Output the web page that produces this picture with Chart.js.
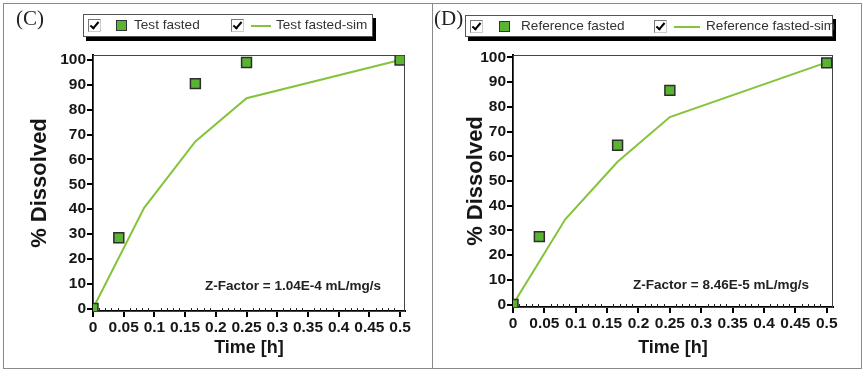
<!DOCTYPE html>
<html>
<head>
<meta charset="utf-8">
<script src="https://cdn.jsdelivr.net/npm/chart.js@4"></script>
<style>
  body { margin: 0; background: #fff; }
  #wrap { position: relative; width: 865px; height: 370px; overflow: hidden; font-family: "Liberation Sans", Arial, sans-serif; }
  .cv { position: absolute; top: 0; }
  .rule { position: absolute; background: #8a8a8a; }
  .tag { position: absolute; top: 6px; font-family: "Liberation Serif", serif; font-size: 21px; color: #222; }
  .legend { position: absolute; border: 1px solid #555; background: #fff; box-shadow: 3px 4px 0 #000; font-size: 13.6px; color: #333; }
  .chk { position: absolute; top: 4px; width: 11px; height: 11px; border: 1px solid; border-color: #777 #ccc #ccc #777; }
  .chk::after { content: ''; position: absolute; left: 3px; top: 0; width: 3px; height: 7px; border: solid #000; border-width: 0 2px 2px 0; transform: rotate(40deg); }
  .sq { position: absolute; top: 5px; width: 9px; height: 9px; background: #5ab432; border: 1px solid #333; }
  .ln { position: absolute; top: 10px; height: 2px; background: #84c33a; }
  .lt { position: absolute; top: 2px; white-space: nowrap; }
  .zf { position: absolute; font-weight: bold; font-size: 13.5px; color: #222; white-space: nowrap; }
</style>
</head>
<body>
<div id="wrap">
  <div class="rule" style="left:3px;top:3px;width:859px;height:1px"></div>
  <div class="rule" style="left:3px;top:3px;width:1px;height:366px"></div>
  <div class="rule" style="left:432px;top:3px;width:1px;height:366px"></div>
  <div class="rule" style="left:861px;top:3px;width:1px;height:366px"></div>
  <div class="rule" style="left:3px;top:368px;width:859px;height:1px"></div>

  <canvas id="chartC" class="cv" style="left:0"></canvas>
  <canvas id="chartD" class="cv" style="left:432px"></canvas>

  <div class="tag" style="left:16px">(C)</div>
  <div class="tag" style="left:434px">(D)</div>

  <div class="legend" style="left:83px;top:14px;width:288px;height:21px">
    <div class="chk" style="left:4px"></div>
    <div class="sq" style="left:32px"></div>
    <div class="lt" style="left:50px">Test fasted</div>
    <div class="chk" style="left:147px"></div>
    <div class="ln" style="left:167px;width:20px"></div>
    <div class="lt" style="left:192px">Test fasted-sim</div>
  </div>
  <div class="legend" style="left:465px;top:15px;width:366px;height:20px">
    <div class="chk" style="left:4px"></div>
    <div class="sq" style="left:33px"></div>
    <div class="lt" style="left:55px">Reference fasted</div>
    <div class="chk" style="left:188px"></div>
    <div class="ln" style="left:208px;width:26px"></div>
    <div class="lt" style="left:240px">Reference fasted-sim</div>
  </div>

  <div class="zf" style="left:205px;top:278px">Z-Factor = 1.04E-4 mL/mg/s</div>
  <div class="zf" style="left:633px;top:277px">Z-Factor = 8.46E-5 mL/mg/s</div>
</div>

<script>
// observed: sampling times [h] and % dissolved
const obsTime = [0, 0.042, 0.1667, 0.25, 0.5];
const testFasted = [0, 28.5, 90.5, 99, 100];
const refFasted = [0, 27.5, 64.5, 86.7, 97.8];

// simulated: time [h] and % dissolved
const simTime = [0, 0.0833, 0.1667, 0.25, 0.5];
const testFastedSim = [0, 40.5, 67.2, 84.6, 100];
const refFastedSim = [0, 34.5, 57.8, 75.9, 98];

const xTicks = [0, 0.05, 0.1, 0.15, 0.2, 0.25, 0.3, 0.35, 0.4, 0.45, 0.5];
const yTicks = [0, 10, 20, 30, 40, 50, 60, 70, 80, 90, 100];

const GREEN = "#5ab432";
const SIM_GREEN = "#84c33a";
const INK = "#161616";

function pts(xs, ys) {
  return xs.map((x, i) => ({ x: x, y: ys[i] }));
}

// thin box around the plot + small minor ticks on the time axis
const frame = {
  id: "frame",
  beforeDatasetsDraw(chart) {
    const a = chart.chartArea;
    const ctx = chart.ctx;
    ctx.save();
    ctx.strokeStyle = "#444";
    ctx.lineWidth = 1;
    ctx.strokeRect(a.left + 0.5, a.top + 0.5, a.right - a.left - 1, a.bottom - a.top);
    const xs = chart.scales.x;
    ctx.strokeStyle = "#222";
    for (let v = 0.01; v < 0.5; v += 0.01) {
      if (Math.abs(v / 0.05 - Math.round(v / 0.05)) < 1e-6) continue;
      const px = Math.round(xs.getPixelForValue(v)) + 0.5;
      ctx.beginPath();
      ctx.moveTo(px, a.bottom);
      ctx.lineTo(px, a.bottom - 3);
      ctx.stroke();
    }
    ctx.restore();
  },
};

function makeConfig(p) {
  return {
    type: "scatter",
    data: {
      datasets: [
        {
          label: p.simLabel,
          type: "line",
          data: pts(simTime, p.sim),
          borderColor: SIM_GREEN,
          borderWidth: 2,
          pointRadius: 0,
          tension: 0,
          order: 2,
        },
        {
          label: p.obsLabel,
          data: pts(obsTime, p.obs),
          backgroundColor: GREEN,
          borderColor: "#2e2e2e",
          borderWidth: 1.5,
          pointStyle: "rect",
          pointRadius: 7,
          order: 1,
        },
      ],
    },
    options: {
      responsive: false,
      animation: false,
      events: [],
      layout: { padding: { left: p.padLeft, top: 55, right: p.padRight, bottom: 9 } },
      plugins: { legend: { display: false }, tooltip: { enabled: false } },
      scales: {
        x: {
          type: "linear",
          min: 0,
          max: p.xMax,
          afterBuildTicks: (s) => { s.ticks = xTicks.map((v) => ({ value: v })); },
          afterFit: (s) => { s.height = p.xHeight; },
          ticks: {
            autoSkip: false,
            maxRotation: 0,
            minRotation: 0,
            padding: 1,
            color: INK,
            font: { family: "Liberation Sans", size: 15.5, weight: "bold" },
            callback: (v) => String(+Number(v).toFixed(2)),
          },
          grid: { drawOnChartArea: false, tickLength: 6, color: "#000", lineWidth: 2 },
          border: { color: "#000", width: 2 },
          title: {
            display: true,
            text: "Time [h]",
            color: INK,
            font: { family: "Liberation Sans", size: 18, weight: "bold" },
            padding: { top: 0, bottom: 2 },
          },
        },
        y: {
          type: "linear",
          min: -1,
          max: p.yMax,
          afterBuildTicks: (s) => { s.ticks = yTicks.map((v) => ({ value: v })); },
          afterFit: (s) => { s.width = p.yWidth; },
          ticks: {
            padding: 1,
            color: INK,
            font: { family: "Liberation Sans", size: 15.5, weight: "bold" },
          },
          grid: { drawOnChartArea: false, tickLength: 6, color: "#000", lineWidth: 2 },
          border: { color: "#000", width: 2 },
          title: {
            display: true,
            text: "% Dissolved",
            color: INK,
            font: { family: "Liberation Sans", size: 22, weight: "bold" },
            padding: { top: p.titlePad, bottom: 0 },
          },
        },
      },
    },
    plugins: [frame],
  };
}

const cvC = document.getElementById("chartC");
cvC.width = 432; cvC.height = 370;
const cvD = document.getElementById("chartD");
cvD.width = 433; cvD.height = 370;

new Chart(cvC, makeConfig({
  obs: testFasted, sim: testFastedSim,
  obsLabel: "Test fasted", simLabel: "Test fasted-sim",
  padLeft: 20, padRight: 27, yWidth: 73, xHeight: 50, titlePad: 7,
  xMax: 0.508, yMax: 102,
}));

new Chart(cvD, makeConfig({
  obs: refFasted, sim: refFastedSim,
  obsLabel: "Reference fasted", simLabel: "Reference fasted-sim",
  padLeft: 20, padRight: 32, yWidth: 61, xHeight: 54, titlePad: 11,
  xMax: 0.51, yMax: 101,
}));
</script>
</body>
</html>
